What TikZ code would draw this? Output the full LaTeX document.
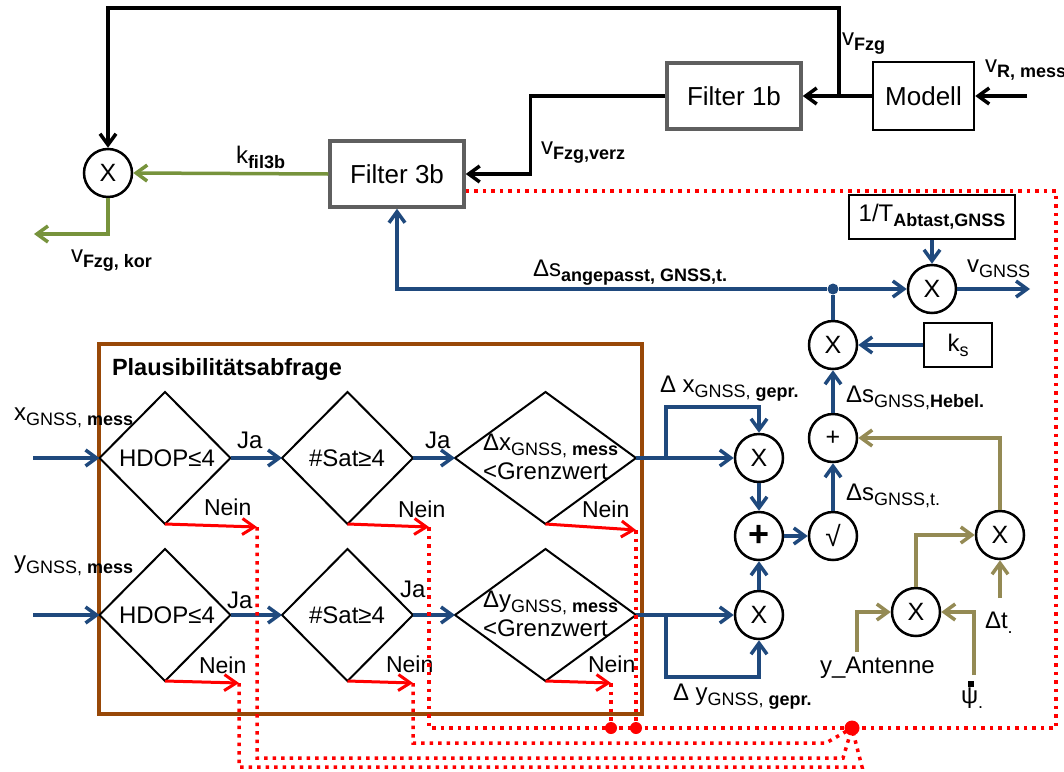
\documentclass[tikz,border=0pt]{standalone}
\usepackage{fontspec}
\setmainfont{Liberation Sans}
\usetikzlibrary{arrows.meta,shapes.geometric}

\definecolor{sigblue}{RGB}{31,73,125}
\definecolor{siggreen}{RGB}{119,147,60}
\definecolor{sigtan}{RGB}{148,138,84}
\definecolor{boxbrown}{RGB}{152,72,7}
\definecolor{boxgrey}{RGB}{95,95,95}

% lowered subscript text, regular and bold
\newcommand\sbx[1]{\raisebox{-5pt}{\fontsize{18}{18}\selectfont #1}}
\newcommand\sbb[1]{\sbx{\bfseries #1}}

\begin{document}
\begin{tikzpicture}[x=1pt,y=-1pt,
  lbl/.style={inner sep=0pt,outer sep=0pt,font=\fontsize{24}{28}\selectfont},
  op/.style={circle,draw=black,line width=2.5pt,minimum size=48pt,inner sep=0pt,
             fill=white,font=\fontsize{25}{25}\selectfont},
  gbox/.style={draw=boxgrey,line width=3.5pt,minimum width=134pt,minimum height=66pt,
               inner sep=0pt,font=\fontsize{26}{26}\selectfont},
  kbox/.style={draw=black,line width=2.5pt,inner sep=0pt,font=\fontsize{26}{26}\selectfont},
  dia/.style={diamond,draw=black,line width=2pt,inner sep=0pt,outer sep=0pt,minimum height=132pt},
  tip/.style={-{Straight Barb[length=11pt,width=16pt]}},
  wire/.style={line width=3.5pt},
  kline/.style={wire,draw=black},
  bline/.style={wire,draw=sigblue},
  gline/.style={wire,draw=siggreen},
  tline/.style={wire,draw=sigtan},
  nein/.style={line width=3pt,draw=red,-{Straight Barb[length=12pt,width=16pt]}},
  rdot/.style={draw=red,line width=3.5pt,dash pattern=on 3.5pt off 5pt},
  rjoin/.style={circle,fill=red,inner sep=0pt,minimum size=12pt},
  bjoin/.style={circle,fill=sigblue,inner sep=0pt,minimum size=11pt}
]
\useasboundingbox (0,0) rectangle (1064,771);

% ---------- upper chain: model, filters, correction ----------
\node[kbox,minimum width=101pt,minimum height=68pt] (mod) at (923.5,96) {Modell};
\node[gbox] (f1b) at (734,96) {Filter 1b};
\node[gbox] (f3b) at (397,174) {Filter 3b};
\node[op] (mulk) at (108,173) {X};

\coordinate (vin) at (1027,96);
\coordinate (jv) at (839,96);
\coordinate (vout) at (34,234);

\draw[kline,tip] (vin) -- (mod.east);
\draw[kline,tip] (mod.west) -- (f1b.east);
\draw[kline,tip] (jv) -- ++(0,-88) -| (mulk.north);
\draw[kline,tip] (f1b.west) -- ++(-135,0) |- (f3b.east);
\draw[gline,tip] (f3b.west) -- (mulk.east);
\draw[gline,tip] (mulk.south) |- (vout);

\node[lbl,anchor=base west] (lvr) at (985,72) {v\sbb{R, mess}};
\node[lbl,anchor=base west] (lvf) at (842,45) {v\sbb{Fzg}};
\node[lbl,anchor=base west] (lvv) at (541,154) {v\sbb{Fzg,verz}};
\node[lbl,anchor=base west] (lkf) at (236,163) {k\sbb{fil3b}};
\node[lbl,anchor=base west] (lvk) at (71,262) {v\sbb{Fzg, kor}};

% ---------- GNSS speed path ----------
\node[kbox,minimum width=166pt,minimum height=44pt,font=\fontsize{24}{24}\selectfont] (tab) at (932,217) {1/T\sbb{Abtast,GNSS}};
\node[op] (mulv) at (932,289) {X};
\node[op] (mulks) at (833,345) {X};
\node[kbox,minimum width=68pt,minimum height=44pt,font=\fontsize{24}{24}\selectfont] (ks) at (958,345) {k\sbx{s}};
\node[op] (addh) at (833,438) {+};
\node[op,font=\fontsize{28}{28}\selectfont] (sqrt) at (833,536) {√};
\node[op,font=\fontsize{36}{36}\selectfont\bfseries] (add) at (759,536) {+};
\node[op] (mulx) at (759,458) {X};
\node[op] (muly) at (759,615) {X};
\node[op] (mult) at (1000,535) {X};
\node[op] (mula) at (916,612) {X};
\node[bjoin] (jb) at (833,289) {};

\coordinate (vg) at (1030,289);
\coordinate (bx) at (666,458);
\coordinate (by) at (666,615);

\draw[bline,tip] (tab.south) -- (mulv.north);
\draw[bline,tip] (mulv.east) -- (vg);
\draw[bline] (mulks.north) -- (jb);
\draw[bline,tip] (jb) -- (mulv.west);
\draw[bline,tip] (jb) -- (397,289) -- (f3b.south);
\draw[bline,tip] (ks.west) -- (mulks.east);
\draw[bline,tip] (addh.north) -- (mulks.south);
\draw[bline,tip] (sqrt.north) -- (addh.south);
\draw[bline,tip] (add.east) -- (sqrt.west);
\draw[bline,tip] (mulx.south) -- (add.north);
\draw[bline,tip] (muly.north) -- (add.south);
\draw[bline,tip] (bx) -- (666,407) -| (mulx.north);
\draw[bline,tip] (by) -- (666,677) -| (muly.south);

\node[lbl,anchor=base west] (lsa) at (533,276) {Δs\sbb{angepasst, GNSS,t.}};
\node[lbl,anchor=base west] (lvg) at (967,272) {v\sbx{GNSS}};
\node[lbl,anchor=base west] (lsh) at (846,402) {Δs\sbx{GNSS,}\sbb{Hebel.}};
\node[lbl,anchor=base west] (lst) at (846,500) {Δs\sbx{GNSS,t.}};
\node[lbl,anchor=base west] (ldx) at (660,392) {Δ x\sbx{GNSS, }\sbb{gepr.}};
\node[lbl,anchor=base west] (ldy) at (673,700) {Δ y\sbx{GNSS, }\sbb{gepr.}};

% ---------- lever-arm correction ----------
\coordinate (yant) at (857,652);
\coordinate (psi) at (974,675);
\coordinate (dtin) at (1000,598);
\draw[tline,tip] (mult.north) |- (addh.east);
\draw[tline,tip] (mula.north) |- (mult.west);
\draw[tline,tip] (yant) |- (mula.west);
\draw[tline,tip] (psi) |- (mula.east);
\draw[tline,tip] (dtin) -- (mult.south);

\node[lbl,anchor=base west] (lya) at (820,673) {y\_Antenne};
\node[lbl,anchor=base west] (ldt) at (985,628) {Δt\sbx{.}};
\node[lbl,anchor=base west] (lpsi) at (961,703) {ψ\sbx{.}};
\fill (968,681) rectangle (974,687);

% ---------- plausibility check ----------
\node[draw=boxbrown,line width=3.5pt,minimum width=543pt,minimum height=370pt,inner sep=0pt] (plaus) at (370.5,529) {};
\node[lbl,anchor=base west,font=\fontsize{23.5}{26}\selectfont\bfseries] (lpl) at (112,375) {Plausibilitätsabfrage};

\node[dia,minimum width=131pt] (d11) at (165,458) {};
\node[dia,minimum width=131pt] (d12) at (347.5,458) {};
\node[dia,minimum width=181pt] (d13) at (545.5,458) {};
\node[dia,minimum width=131pt] (d21) at (165,615) {};
\node[dia,minimum width=131pt] (d22) at (347.5,615) {};
\node[dia,minimum width=181pt] (d23) at (545.5,615) {};

\node[lbl] (t11) at (167,458) {HDOP≤4};
\node[lbl] (t12) at (347,458) {\#Sat≥4};
\node[lbl,anchor=base west] (t13a) at (483,450) {Δx\sbx{GNSS, }\sbb{mess}};
\node[lbl,anchor=base west] (t13b) at (483,479) {<Grenzwert};
\node[lbl] (t21) at (167,615) {HDOP≤4};
\node[lbl] (t22) at (347,615) {\#Sat≥4};
\node[lbl,anchor=base west] (t23a) at (483,607) {Δy\sbx{GNSS, }\sbb{mess}};
\node[lbl,anchor=base west] (t23b) at (483,636) {<Grenzwert};

\coordinate (xin) at (33,458);
\coordinate (yin) at (33,615);
\draw[bline,tip] (xin) -- (d11.west);
\draw[bline,tip] (d11.east) -- (d12.west);
\draw[bline,tip] (d12.east) -- (d13.west);
\draw[bline,tip] (yin) -- (d21.west);
\draw[bline,tip] (d21.east) -- (d22.west);
\draw[bline,tip] (d22.east) -- (d23.west);
\draw[bline,tip] (d13.east) -- (mulx.west);
\draw[bline,tip] (d23.east) -- (muly.west);

\node[lbl,anchor=base west] (lx) at (14,420) {x\sbx{GNSS, }\sbb{mess}};
\node[lbl,anchor=base west] (ly) at (14,568) {y\sbx{GNSS, }\sbb{mess}};
\node[lbl,anchor=base west] (j11) at (237,448) {Ja};
\node[lbl,anchor=base west] (j12) at (425,448) {Ja};
\node[lbl,anchor=base west] (j21) at (227,608) {Ja};
\node[lbl,anchor=base west] (j22) at (400,597) {Ja};

% rejected branches
\coordinate (e11) at (257,527);
\coordinate (e12) at (429,527);
\coordinate (e13) at (636,530);
\coordinate (e21) at (239,683);
\coordinate (e22) at (413,683);
\coordinate (e23) at (611,683);
\draw[nein] (d11.south) -- (e11);
\draw[nein] (d12.south) -- (e12);
\draw[nein] (d13.south) -- (e13);
\draw[nein] (d21.south) -- (e21);
\draw[nein] (d22.south) -- (e22);
\draw[nein] (d23.south) -- (e23);

\node[lbl,anchor=base west,font=\fontsize{23}{26}\selectfont] (n11) at (204,515) {Nein};
\node[lbl,anchor=base west,font=\fontsize{23}{26}\selectfont] (n12) at (398,517) {Nein};
\node[lbl,anchor=base west,font=\fontsize{23}{26}\selectfont] (n13) at (582,517) {Nein};
\node[lbl,anchor=base west,font=\fontsize{23}{26}\selectfont] (n21) at (199,673) {Nein};
\node[lbl,anchor=base west,font=\fontsize{23}{26}\selectfont] (n22) at (386,672) {Nein};
\node[lbl,anchor=base west,font=\fontsize{23}{26}\selectfont] (n23) at (588,672) {Nein};

% reset signal collected back to Filter 3b
\coordinate (r0) at (f3b.east |- 0,191);
\node[rjoin,minimum size=15pt] (jn) at (852,728) {};
\node[rjoin] (ja) at (611,728) {};
\node[rjoin] (jb2) at (636,728) {};

\draw[rdot] (r0) -- (1056,191) -- (1056,728) -- (jn.center);
\draw[rdot] (e12) -- (e12 |- 0,728) -- (jn.center);
\draw[rdot] (e13) -- (jb2.center);
\draw[rdot] (e23) -- (ja.center);
\draw[rdot] (e22) -- (e22 |- 0,743) -- (826,743) -- (jn.center);
\draw[rdot] (e11) -- (e11 |- 0,758) -- (843,758) -- (jn.center);
\draw[rdot] (e21) -- (e21 |- 0,767) -- (862,767) -- (jn.center);
\end{tikzpicture}
\end{document}
